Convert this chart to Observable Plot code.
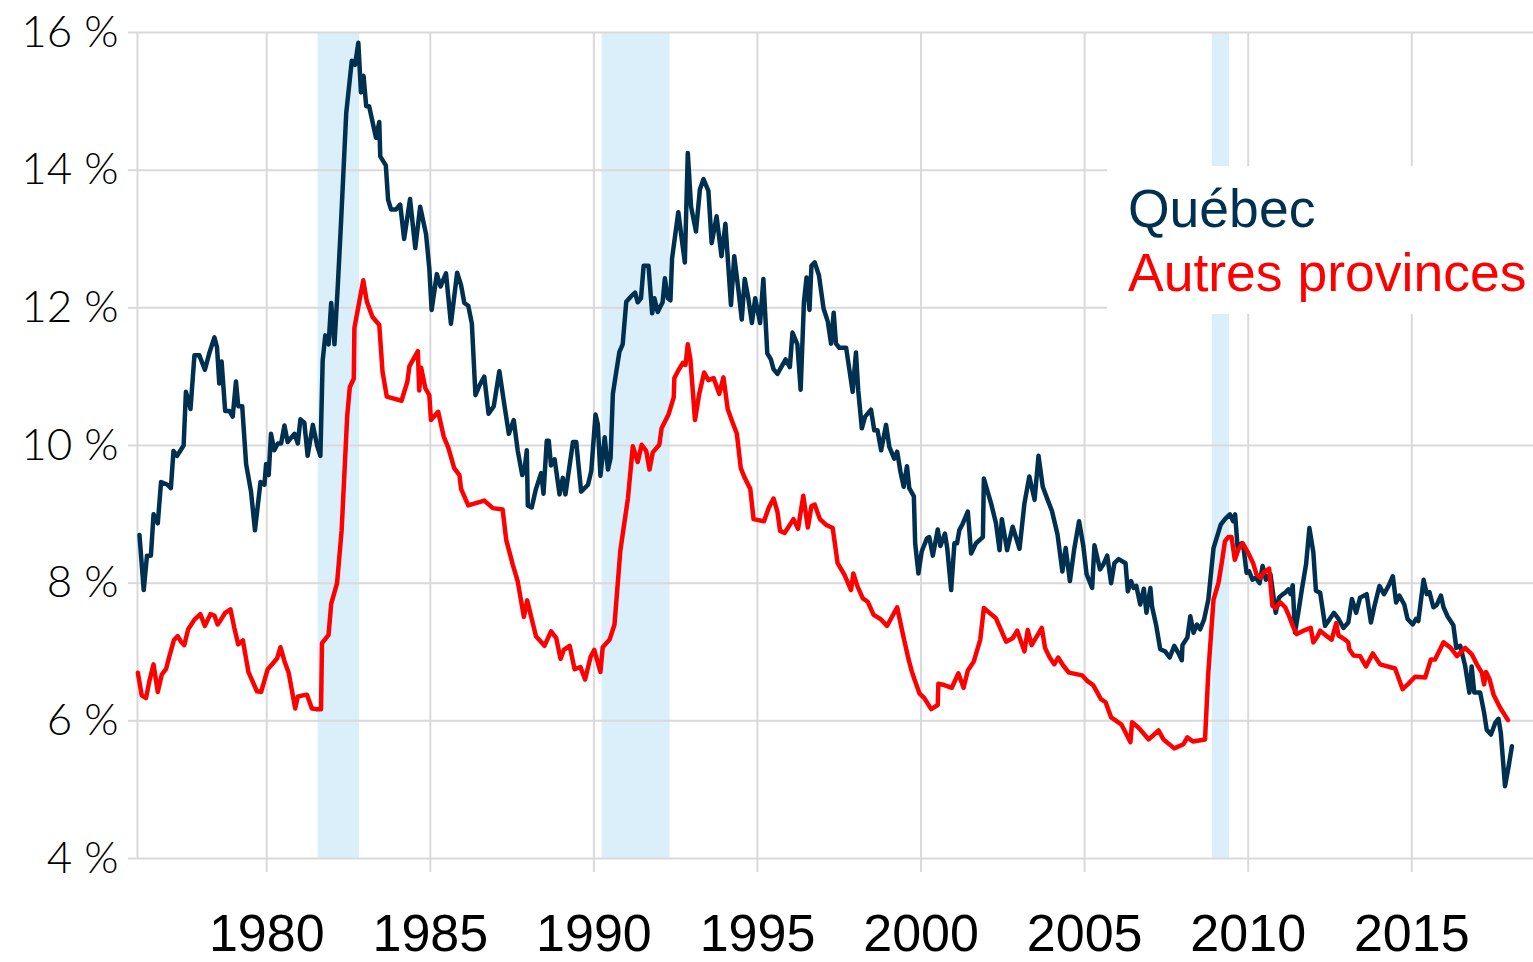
<!DOCTYPE html>
<html>
<head>
<meta charset="utf-8">
<script src="https://cdn.jsdelivr.net/npm/d3@7"></script>
<script src="https://cdn.jsdelivr.net/npm/@observablehq/plot@0.6"></script>
<style>
  html, body { margin: 0; padding: 0; background: #fff; }
  #wrap { position: relative; width: 1533px; height: 962px; }
  #legend { position: absolute; left: 1107px; top: 166px; width: 426px; height: 148px; background: #fff;
            font-family: "Liberation Sans", Arial, sans-serif; font-size: 53.5px; line-height: 64px; }
  #legend div { position: absolute; left: 21px; white-space: nowrap; }
</style>
</head>
<body>
<div id="wrap"><div id="legend"><div style="top:11px;color:#00304f">Québec</div><div style="top:75px;color:#ff0000">Autres provinces</div></div></div>
<script>
// Taux de chômage (%) — Québec
const quebecYears = [1976.11,1976.24,1976.34,1976.46,1976.54,1976.67,1976.77,1976.97,1977.07,1977.15,1977.26,1977.46,1977.53,1977.67,1977.79,1977.94,1978.11,1978.25,1978.40,1978.48,1978.55,1978.62,1978.73,1978.86,1978.96,1979.06,1979.13,1979.25,1979.37,1979.52,1979.64,1979.81,1979.93,1979.98,1980.06,1980.13,1980.23,1980.34,1980.44,1980.54,1980.64,1980.74,1980.85,1980.95,1981.03,1981.15,1981.25,1981.41,1981.54,1981.64,1981.71,1981.79,1981.89,1981.97,1982.07,1982.17,1982.27,1982.43,1982.60,1982.70,1982.80,1982.88,1982.96,1983.04,1983.13,1983.34,1983.44,1983.47,1983.64,1983.71,1983.80,1983.95,1984.08,1984.20,1984.38,1984.54,1984.69,1984.87,1984.97,1985.04,1985.20,1985.31,1985.48,1985.63,1985.82,1985.94,1986.04,1986.16,1986.27,1986.38,1986.50,1986.65,1986.78,1986.94,1987.11,1987.27,1987.40,1987.55,1987.67,1987.81,1987.88,1987.95,1987.98,1988.10,1988.23,1988.39,1988.46,1988.56,1988.62,1988.69,1988.80,1988.95,1989.05,1989.13,1989.36,1989.46,1989.61,1989.82,1989.92,1990.05,1990.12,1990.20,1990.33,1990.43,1990.51,1990.58,1990.68,1990.78,1990.88,1990.99,1991.14,1991.26,1991.34,1991.44,1991.52,1991.67,1991.78,1991.85,1991.95,1992.10,1992.17,1992.26,1992.34,1992.39,1992.58,1992.68,1992.78,1992.87,1992.97,1993.12,1993.24,1993.35,1993.50,1993.60,1993.75,1993.90,1994.02,1994.19,1994.29,1994.42,1994.52,1994.61,1994.72,1994.83,1994.93,1995.08,1995.18,1995.30,1995.41,1995.49,1995.61,1995.86,1995.99,1996.07,1996.22,1996.32,1996.42,1996.50,1996.59,1996.65,1996.75,1996.88,1997.02,1997.15,1997.25,1997.33,1997.40,1997.50,1997.71,1997.81,1997.91,1998.01,1998.08,1998.19,1998.29,1998.47,1998.57,1998.67,1998.78,1998.93,1999.03,1999.18,1999.27,1999.37,1999.47,1999.57,1999.64,1999.78,1999.82,1999.92,2000.02,2000.18,2000.25,2000.36,2000.51,2000.59,2000.73,2000.80,2000.92,2001.02,2001.10,2001.17,2001.27,2001.43,2001.53,2001.68,2001.89,2001.92,2002.14,2002.29,2002.40,2002.47,2002.63,2002.80,2003.01,2003.16,2003.31,2003.47,2003.59,2003.72,2003.87,2004.00,2004.17,2004.32,2004.42,2004.55,2004.68,2004.83,2004.96,2005.06,2005.23,2005.30,2005.47,2005.57,2005.69,2005.81,2005.91,2006.04,2006.25,2006.32,2006.42,2006.50,2006.58,2006.70,2006.81,2006.89,2007.01,2007.06,2007.19,2007.31,2007.46,2007.60,2007.74,2007.87,2007.97,2007.99,2008.14,2008.23,2008.33,2008.43,2008.53,2008.65,2008.78,2008.94,2009.16,2009.29,2009.44,2009.54,2009.60,2009.68,2009.80,2009.85,2009.95,2010.03,2010.13,2010.23,2010.35,2010.44,2010.54,2010.68,2010.84,2010.94,2011.06,2011.13,2011.23,2011.30,2011.36,2011.43,2011.53,2011.64,2011.77,2011.87,2011.99,2012.07,2012.20,2012.35,2012.45,2012.62,2012.76,2012.91,2013.06,2013.17,2013.30,2013.42,2013.62,2013.75,2013.85,2014.01,2014.15,2014.29,2014.42,2014.52,2014.62,2014.77,2014.87,2015.03,2015.13,2015.20,2015.36,2015.46,2015.54,2015.66,2015.76,2015.89,2015.97,2016.09,2016.27,2016.36,2016.48,2016.63,2016.76,2016.83,2016.91,2017.09,2017.21,2017.29,2017.42,2017.55,2017.65,2017.72,2017.85,2017.96,2018.06];
const quebecValues = [8.7,7.9,8.4,8.4,9.0,8.87,9.47,9.43,9.38,9.92,9.85,10.0,10.78,10.53,11.31,11.31,11.1,11.35,11.57,11.43,10.9,11.22,10.5,10.5,10.42,10.93,10.57,10.57,9.73,9.33,8.77,9.47,9.43,9.73,9.57,10.17,9.93,10.03,10.03,10.29,10.05,10.11,10.17,10.03,10.38,10.33,9.85,10.3,10.0,9.85,11.23,11.6,11.47,12.07,11.47,12.3,13.23,14.83,15.59,15.53,15.85,15.13,15.37,14.93,14.93,14.47,14.7,14.2,14.07,13.57,13.43,13.43,13.5,13.0,13.58,12.87,13.47,13.07,12.57,11.97,12.49,12.31,12.5,11.77,12.51,12.33,12.07,12.03,11.77,10.73,10.87,11.0,10.46,10.57,11.08,10.57,10.17,10.37,9.93,9.57,9.65,9.93,9.13,9.1,9.37,9.6,9.3,10.07,10.07,9.71,9.8,9.29,9.53,9.29,10.05,10.05,9.33,9.43,9.63,10.45,10.31,9.56,10.12,9.65,9.82,10.75,11.06,11.36,11.47,12.09,12.17,12.22,12.08,12.14,12.61,12.61,11.92,12.14,11.94,12.08,12.43,12.14,12.11,12.72,13.39,13.02,12.66,14.25,13.47,13.11,13.72,13.87,13.7,12.94,13.33,12.75,13.22,12.04,12.75,12.25,11.83,12.42,12.14,11.78,12.14,11.78,12.42,11.34,11.25,11.11,11.04,11.25,11.14,11.64,11.47,10.81,12.08,12.44,11.97,12.61,12.66,12.47,11.99,11.8,11.48,11.93,11.48,11.42,11.42,11.1,10.78,11.35,10.8,10.25,10.42,10.52,10.22,10.22,9.93,10.3,9.98,9.81,9.91,9.62,9.4,9.7,9.38,9.26,8.58,8.14,8.46,8.65,8.67,8.4,8.78,8.54,8.72,8.51,7.9,8.58,8.58,8.77,8.86,9.04,8.43,8.58,8.67,9.52,9.16,8.87,8.48,8.93,8.48,8.82,8.5,9.16,9.55,9.21,9.85,9.4,9.21,9.05,8.71,8.17,8.51,8.03,8.49,8.9,8.54,8.13,7.93,8.55,8.2,8.27,8.4,8.0,8.29,8.35,8.29,7.88,8.03,7.93,7.96,7.69,7.92,7.57,7.93,7.66,7.38,7.04,7.01,6.92,7.09,6.98,6.88,7.1,7.21,7.52,7.28,7.4,7.33,7.47,7.76,8.51,8.85,8.93,9.0,8.9,9.0,8.49,8.58,8.54,8.15,8.17,8.05,8.08,8.0,8.25,8.05,8.13,7.57,7.79,7.84,7.86,7.91,7.84,7.97,7.28,7.57,7.91,8.28,8.8,8.45,7.89,7.86,7.38,7.45,7.57,7.48,7.35,7.43,7.77,7.57,7.79,7.84,7.43,7.65,7.96,7.84,7.96,8.1,7.72,7.82,7.69,7.48,7.4,7.48,7.45,8.05,7.84,7.87,7.65,7.68,7.82,7.65,7.52,7.39,7.06,7.09,6.8,6.41,6.79,6.41,6.41,6.12,5.87,5.8,5.97,6.03,5.83,5.05,5.34,5.63];

// Taux de chômage (%) — Autres provinces
const autresYears = [1976.06,1976.18,1976.31,1976.41,1976.54,1976.67,1976.79,1976.92,1977.02,1977.16,1977.28,1977.38,1977.48,1977.60,1977.79,1977.97,1978.11,1978.28,1978.40,1978.50,1978.60,1978.73,1978.89,1979.01,1979.13,1979.27,1979.44,1979.57,1979.70,1979.83,1980.03,1980.18,1980.32,1980.42,1980.54,1980.67,1980.87,1980.95,1981.10,1981.23,1981.38,1981.51,1981.66,1981.69,1981.89,1981.97,1982.15,1982.29,1982.46,1982.54,1982.66,1982.68,1982.95,1983.06,1983.23,1983.44,1983.54,1983.67,1984.12,1984.30,1984.36,1984.62,1984.66,1984.72,1984.85,1984.97,1985.02,1985.24,1985.41,1985.55,1985.73,1985.89,1985.94,1986.16,1986.65,1986.91,1987.21,1987.32,1987.52,1987.67,1987.86,1987.96,1988.23,1988.49,1988.69,1988.85,1988.98,1989.08,1989.26,1989.41,1989.59,1989.73,1989.90,1990.01,1990.20,1990.27,1990.48,1990.63,1990.81,1991.04,1991.19,1991.34,1991.46,1991.60,1991.70,1991.80,1992.00,1992.07,1992.28,1992.44,1992.46,1992.58,1992.72,1992.80,1992.87,1992.95,1993.09,1993.22,1993.37,1993.50,1993.66,1993.83,1993.96,1994.09,1994.21,1994.37,1994.49,1994.61,1994.78,1994.88,1995.20,1995.34,1995.49,1995.61,1995.69,1995.83,1996.10,1996.24,1996.40,1996.54,1996.65,1996.75,1996.91,1997.09,1997.30,1997.45,1997.66,1997.86,1997.93,1998.06,1998.22,1998.37,1998.55,1998.76,1998.96,1999.27,1999.44,1999.61,1999.71,1999.80,1999.95,2000.10,2000.31,2000.51,2000.53,2000.71,2000.94,2001.14,2001.30,2001.43,2001.61,2001.81,2001.92,2002.04,2002.29,2002.60,2002.80,2002.94,2003.16,2003.26,2003.38,2003.69,2003.79,2003.92,2004.07,2004.19,2004.35,2004.52,2004.93,2005.08,2005.26,2005.39,2005.49,2005.64,2005.81,2006.12,2006.25,2006.40,2006.45,2006.65,2006.96,2007.26,2007.41,2007.74,2008.02,2008.14,2008.31,2008.68,2008.78,2008.94,2009.09,2009.19,2009.29,2009.39,2009.49,2009.59,2009.70,2009.83,2010.00,2010.15,2010.25,2010.38,2010.48,2010.64,2010.74,2010.84,2010.98,2011.13,2011.26,2011.36,2011.48,2011.69,2011.91,2011.99,2012.12,2012.20,2012.40,2012.55,2012.69,2012.76,2012.96,2013.06,2013.09,2013.22,2013.42,2013.60,2013.81,2014.03,2014.49,2014.72,2014.90,2015.10,2015.41,2015.58,2015.71,2015.97,2016.19,2016.38,2016.63,2016.83,2016.99,2017.14,2017.21,2017.27,2017.38,2017.50,2017.70,2017.94];
const autresValues = [6.7,6.37,6.33,6.57,6.82,6.42,6.67,6.75,6.93,7.17,7.23,7.15,7.1,7.33,7.47,7.55,7.38,7.55,7.53,7.4,7.47,7.57,7.62,7.35,7.11,7.17,6.71,6.57,6.43,6.42,6.75,6.83,6.91,7.07,6.87,6.7,6.18,6.35,6.37,6.38,6.18,6.17,6.17,7.13,7.25,7.7,8.0,8.77,10.43,10.85,10.97,11.71,12.4,12.09,11.87,11.75,11.07,10.71,10.65,10.93,11.15,11.37,10.8,11.13,10.83,10.73,10.37,10.49,10.13,9.97,9.67,9.57,9.37,9.13,9.2,9.09,9.07,8.63,8.27,8.03,7.51,7.75,7.23,7.09,7.3,7.2,6.9,7.03,7.09,6.75,6.78,6.6,6.93,7.03,6.71,7.07,7.18,7.4,8.48,9.23,9.99,9.76,10.01,9.92,9.65,9.9,10.01,10.25,10.45,10.7,10.98,11.09,11.2,11.17,11.47,11.25,10.37,10.75,11.06,10.95,10.98,10.75,10.99,10.53,10.37,10.17,9.67,9.53,9.37,8.93,8.9,9.09,9.23,9.04,8.76,8.73,8.93,8.79,9.27,8.81,9.12,9.14,8.93,8.85,8.8,8.29,8.12,7.9,8.14,7.95,7.78,7.73,7.54,7.48,7.38,7.65,7.27,6.91,6.73,6.6,6.4,6.33,6.17,6.23,6.54,6.52,6.48,6.69,6.48,6.73,6.86,7.18,7.64,7.59,7.49,7.15,7.2,7.31,7.01,7.32,7.1,7.35,7.06,6.93,6.82,6.92,6.8,6.7,6.66,6.58,6.52,6.41,6.32,6.27,6.05,5.95,5.83,5.69,5.98,5.9,5.73,5.86,5.73,5.6,5.66,5.76,5.7,5.73,6.7,7.76,8.0,8.29,8.61,8.67,8.67,8.34,8.49,8.58,8.44,8.29,8.13,8.08,8.16,8.21,7.67,7.64,7.72,7.65,7.51,7.38,7.26,7.31,7.35,7.14,7.23,7.31,7.23,7.18,7.42,7.24,7.18,7.14,7.04,6.95,6.94,6.79,6.98,6.82,6.76,6.46,6.54,6.64,6.63,6.89,6.89,7.14,7.06,6.94,7.06,6.97,6.82,6.7,6.53,6.71,6.6,6.38,6.19,6.01];

// Récessions
const recessionStart = [1981.57, 1990.25, 2008.9];
const recessionEnd   = [1982.84, 1992.33, 2009.43];

const xTicks = [1980, 1985, 1990, 1995, 2000, 2005, 2010, 2015];
const yTicks = [4, 6, 8, 10, 12, 14, 16];
const xDomain = [1976.05, 2018.72];
const yDomain = [4, 16];

const quebec = quebecYears.map((x, i) => ({x, y: quebecValues[i]}));
const autres = autresYears.map((x, i) => ({x, y: autresValues[i]}));
const recessions = recessionStart.map((s, i) => ({s, e: recessionEnd[i]}));

const grid = "#d9d9d9";
const chart = Plot.plot({
  width: 1533, height: 962,
  marginLeft: 137, marginRight: 0, marginTop: 32, marginBottom: 104,
  x: {domain: xDomain},
  y: {domain: yDomain},
  marks: [
    Plot.rect(recessions, {x1: "s", x2: "e", fill: "#dbeffa"}),
    Plot.gridX(xTicks, {stroke: grid, strokeOpacity: 1, strokeWidth: 2}),
    Plot.gridY(yTicks, {stroke: grid, strokeOpacity: 1, strokeWidth: 2}),
    Plot.ruleX([xDomain[0]], {stroke: grid, strokeWidth: 2}),
    Plot.axisX(xTicks, {tickSize: 14, tickPadding: 42, stroke: grid, strokeWidth: 2, fill: "#000",
      tickFormat: d => String(d), fontSize: 52, fontFamily: "Liberation Sans, Arial, sans-serif", label: null}),
    Plot.axisY(yTicks, {tickSize: 9, tickPadding: 10, stroke: grid, strokeWidth: 2, fill: "#000",
      tickFormat: d => d + " %", fontSize: 44, fontWeight: 300, fontFamily: "Lato, sans-serif", label: null}),
    Plot.line(quebec, {x: "x", y: "y", stroke: "#00304f", strokeWidth: 4.5, strokeLinejoin: "round"}),
    Plot.line(autres, {x: "x", y: "y", stroke: "#ff0000", strokeWidth: 4.5, strokeLinejoin: "round"})
  ]
});
document.getElementById("wrap").prepend(chart);
chart.style.position = "absolute";
chart.style.left = "0px";
chart.style.top = "0px";
</script>
</body>
</html>
